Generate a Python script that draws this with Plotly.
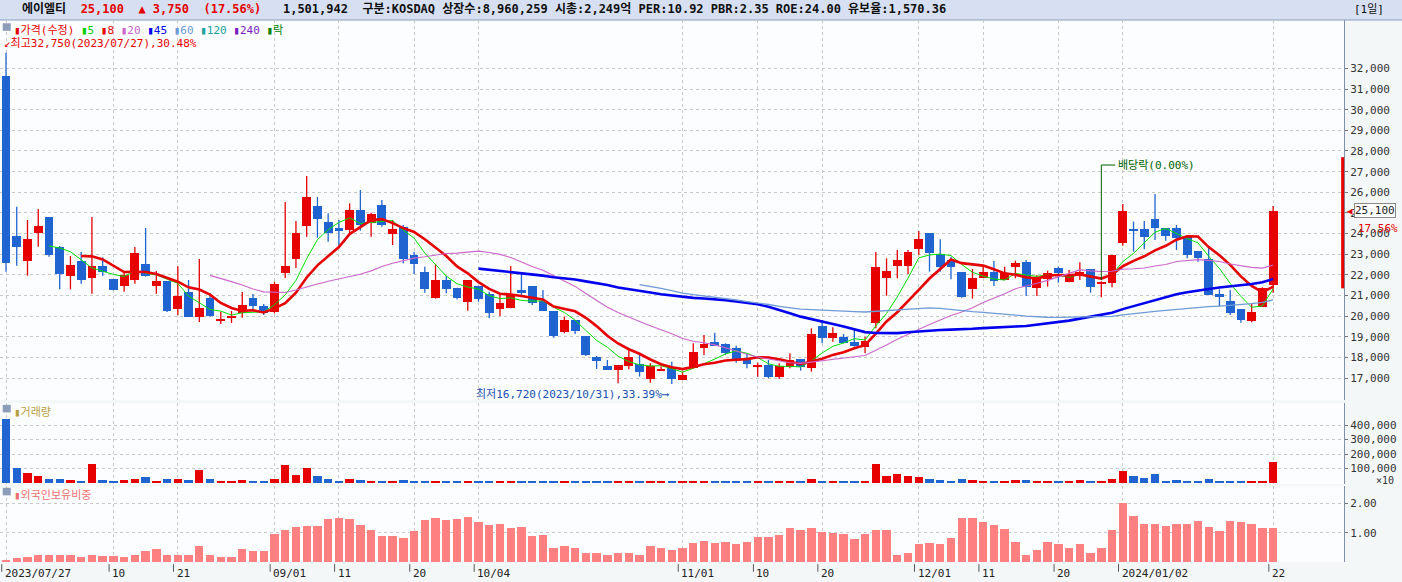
import plotly.graph_objects as go
import pandas as pd

opens = [31627,23885,22691,24046,24804,23352,21965,22675,21868,22433,21804,21481,21771,22530,21481,21691,20368,21175,19981,20885,
19772,19933,20143,20901,20498,20207,22110,22788,24385,25336,24563,24256,24176,25143,24498,25401,23998,24321,22966,22143,
20901,21756,21385,20708,21466,21079,20337,20385,21272,21466,20740,20256,19256,19821,19046,18014,17595,17401,17595,17691,
16982,17353,17530,16917,17482,18482,18740,18643,18450,17933,17530,17643,17078,17563,17917,17514,19530,18966,19014,18772,
18530,19659,21837,22450,22450,23272,24031,23014,22724,22144,21337,21869,22144,21740,22402,22644,21353,21789,22321,21644,
21950,22273,21595,21595,23563,24208,24208,24708,24257,24257,23821,23160,22773,21079,20740,20353,19772,20466,21514]
highs = [32750,25304,24659,25191,24804,23400,22917,23110,24804,22852,21804,22191,23352,24272,22191,21691,22417,21756,22772,21110,
20223,20256,21175,21078,20594,21675,25530,24611,26788,25772,24982,24660,25466,26111,25014,25627,24660,24417,23127,22401,
22530,21949,21385,21756,21466,21192,21030,22433,22079,21466,21272,20256,19982,19821,19046,18078,17885,17643,18369,18208,
17724,17563,17804,17321,18691,19095,19208,18691,18579,18208,17756,17885,17724,18208,17917,19417,19820,19466,19143,19417,
19014,23111,22804,23208,23208,24127,24031,23724,22885,22144,22289,22434,22676,22402,22692,22724,21998,22208,22402,22240,
22611,22273,21700,22950,25434,24579,24611,25918,24257,24418,23821,23160,23370,21305,21273,20353,20627,21402,25337]
lows = [22158,22449,21965,23369,22885,21304,21304,21578,21094,21965,21256,21191,21578,21917,21094,20207,20062,19981,19723,19981,
19627,19675,19933,20304,20062,20143,21852,22336,23853,23804,23611,23401,24014,24143,23853,24330,23450,22563,22046,21143,
20853,21111,20820,20272,20708,19901,20014,20385,20982,20546,20256,18966,19175,19143,18078,17450,17401,16756,17433,17079,
16788,17353,16720,16917,17482,18127,18579,18130,17756,17482,17078,16998,16966,17482,17369,17320,18691,18772,18691,18530,
18208,19417,20998,21837,22047,22966,22160,22160,21789,20901,20853,21869,21466,21740,21837,20982,20982,21434,21627,21644,
21756,21143,20918,21402,23418,23128,23240,23692,23660,23208,22805,22644,21031,20498,20063,19692,19708,20466,21143]
closes = [22562,23369,23739,24385,22965,22062,22481,21771,22433,22158,21288,21981,23062,21965,21691,20271,20981,19981,20401,20014,
19869,20030,20530,20514,20143,21562,22433,24030,25772,24724,24014,24160,25143,24417,24966,24417,24224,22788,22530,21336,
21756,21336,20901,21756,20820,20175,20627,21079,21143,20627,20256,19062,19821,19304,18127,17853,17401,17643,18014,17320,
17595,17450,16950,17160,18272,18675,18579,18208,17885,17691,17643,17078,17595,17885,17530,19143,18966,19208,18691,18578,
18820,22369,22208,22724,23111,23724,23079,22402,22370,20950,21837,22144,21724,22111,22563,21434,21837,22079,22079,21998,
22128,21402,21644,22950,25095,24144,23853,24289,23902,23773,22966,22837,21031,20950,20176,19821,20192,21350,25100]
volumes = [443000,104000,69000,48000,28000,28000,21000,14000,132000,21000,14000,21000,28000,42000,14000,28000,28000,21000,90000,28000,
14000,7000,21000,14000,7000,28000,125000,55000,104000,48000,28000,14000,28000,21000,14000,14000,14000,21000,7000,14000,
6000,6000,6000,6000,6000,6000,6000,14000,6000,6000,6000,12000,5000,5000,5000,5000,5000,5000,5000,5000,
5000,5000,5000,5000,5000,5000,5000,5000,5000,5000,5000,5000,5000,5000,5000,28000,5000,5000,5000,5000,
5000,132000,48000,62000,48000,42000,28000,21000,14000,28000,21000,14000,14000,14000,21000,21000,7000,7000,7000,14000,
21000,14000,14000,28000,83000,48000,35000,62000,14000,21000,14000,7000,28000,7000,14000,7000,7000,14000,145000]
foreign = [0.08,0.13,0.16,0.25,0.25,0.22,0.22,0.16,0.25,0.20,0.20,0.16,0.25,0.36,0.43,0.25,0.22,0.22,0.53,0.22,
0.18,0.18,0.43,0.36,0.36,0.94,1.08,1.18,1.22,1.22,1.46,1.49,1.46,1.25,1.08,0.87,0.87,0.80,1.05,1.43,
1.49,1.43,1.46,1.53,1.36,1.25,1.29,1.15,1.18,0.87,0.91,0.49,0.53,0.46,0.32,0.29,0.25,0.29,0.29,0.22,
0.53,0.49,0.39,0.46,0.63,0.70,0.63,0.67,0.60,0.67,0.84,0.84,0.91,1.15,1.08,1.15,1.01,0.98,0.94,0.77,
0.94,1.08,1.08,0.25,0.32,0.60,0.63,0.60,0.80,1.49,1.49,1.36,1.25,1.11,0.67,0.25,0.39,0.67,0.60,0.49,
0.60,0.29,0.49,1.08,2.01,1.56,1.29,1.29,1.22,1.29,1.29,1.39,1.18,1.05,1.39,1.36,1.29,1.15,1.15]
tick_idx = [0,10,16,25,31,38,44,63,70,76,85,91,98,104,118]
tick_text = ["2023/07/27","10","21","09/01","11","20","10/04","11/01","10","20","12/01","11","20","2024/01/02","22"]
price_ticks = list(range(17000, 32001, 1000))

RED = "#e60000"; BLUE = "#1f64d0"
FONT = "DejaVu Sans Mono, Noto Sans CJK KR"
x = list(range(len(closes)))
cs = pd.Series(closes)
ma = {n: cs.rolling(n).mean() for n in (5, 8, 20, 45, 60)}

fig = go.Figure()
for up, col in ((True, RED), (False, BLUE)):
    wx, wy, bx, bb, bh = [], [], [], [], []
    for i, (o, h, l, c) in enumerate(zip(opens, highs, lows, closes)):
        if (c >= o) != up:
            continue
        wx += [i, i, None]; wy += [l, h, None]
        bx.append(i); bb.append(min(o, c)); bh.append(max(abs(c - o), 60))
    fig.add_trace(go.Scatter(x=wx, y=wy, mode="lines", line=dict(color=col, width=1.3),
                             showlegend=False, hoverinfo="skip", yaxis="y"))
    fig.add_trace(go.Bar(x=bx, y=bh, base=bb, width=0.82, marker=dict(color=col, line=dict(width=0)),
                         showlegend=False, yaxis="y"))
mastyle = {5: ("#00e000", 1), 8: (RED, 2.6), 20: ("#cc66cc", 1.1), 45: ("#0000ee", 2.6), 60: ("#6f9bd6", 1.3)}
for n, (c, w) in mastyle.items():
    fig.add_trace(go.Scatter(x=x, y=ma[n], mode="lines", line=dict(color=c, width=w),
                             yaxis="y", showlegend=False, hoverinfo="skip"))
vcol = [RED if c >= o else BLUE for o, c in zip(opens, closes)]
fig.add_trace(go.Bar(x=x, y=volumes, marker=dict(color=vcol, line=dict(width=0)), width=0.78,
                     yaxis="y2", showlegend=False))
fig.add_trace(go.Bar(x=x, y=foreign, marker=dict(color="#ff8080", line=dict(width=0)), width=0.78,
                     yaxis="y3", showlegend=False))

grid = dict(showgrid=True, gridcolor="#c8c8c8", griddash="dot", gridwidth=1)
axfont = dict(family=FONT, size=11, color="#333333")
yax = dict(side="right", tickfont=axfont, ticks="outside", ticklen=3, tickcolor="#777", showline=True,
           linecolor="#8090a8", zeroline=False, **grid)
fig.update_layout(
    width=1402, height=582, margin=dict(l=0, r=58, t=20, b=20),
    paper_bgcolor="#f4f7f8", plot_bgcolor="#fbfdfe", bargap=0, barmode="overlay",
    xaxis=dict(range=[-0.56, 124.6], tickvals=tick_idx, showticklabels=False, anchor="y3",
               ticks="", zeroline=False, **grid),
    yaxis=dict(domain=[0.299, 1.0], range=[15950, 34340], tickvals=price_ticks,
               ticktext=[f"{v:,}" for v in price_ticks], **yax),
    yaxis2=dict(domain=[0.144, 0.293], range=[-8000, 553000],
                tickvals=[100000, 200000, 300000, 400000], ticktext=["100,000", "200,000", "300,000", "400,000"], **yax),
    yaxis3=dict(domain=[0.0, 0.140], range=[0, 2.59], tickvals=[1, 2], ticktext=["1.00", "2.00"], **yax),
    font=dict(family=FONT, size=12),
)

ann = []
fig.add_shape(type="rect", xref="paper", yref="paper", x0=-0.01, x1=1.05, y0=1.0, y1=1.04,
              fillcolor="#d6e0f2", line=dict(color="#8a9cc0", width=1), layer="below")
hdr = ('<b>에이엘티</b>  <span style="color:#e60000"><b>25,100  ▲ 3,750  (17.56%)</b></span>   '
       '<b>1,501,942  구분:KOSDAQ 상장수:8,960,259 시총:2,249억 PER:10.92 PBR:2.35 ROE:24.00 유보율:1,570.36</b>')
ann.append(dict(text=hdr, xref="paper", yref="paper", x=0, xshift=20, y=1.037, xanchor="left", yanchor="top",
                showarrow=False, font=dict(family=FONT, size=12, color="#111")))
ann.append(dict(text="[1일]", xref="paper", yref="paper", x=1.0, xshift=8, y=1.037, xanchor="left",
                yanchor="top", showarrow=False, font=dict(family=FONT, size=11, color="#111")))
leg = ('<span style="color:#e60000">▮가격(수정)</span> <span style="color:#00d000">▮5</span> '
       '<span style="color:#e60000">▮8</span> <span style="color:#cc66cc">▮20</span> '
       '<span style="color:#0000ee">▮45</span> <span style="color:#6f9bd6">▮60</span> '
       '<span style="color:#20a0a0">▮120</span> <span style="color:#7a20c0">▮240</span> '
       '<span style="color:#008000">▮락</span>')
ann.append(dict(text=leg, xref="paper", yref="paper", x=0, xshift=12, y=0.996, xanchor="left", yanchor="top",
                showarrow=False, font=dict(family=FONT, size=11)))
ann.append(dict(text="↙최고32,750(2023/07/27),30.48%", xref="paper", yref="paper", x=0, xshift=2, y=0.972,
                xanchor="left", yanchor="top", showarrow=False, font=dict(family=FONT, size=11, color=RED)))
ann.append(dict(text="최저16,720(2023/10/31),33.39%⟶", x=62, y=16720, xanchor="right", yanchor="top",
                yshift=-2, showarrow=False, font=dict(family=FONT, size=11, color="#2050b0")))
ann.append(dict(text="▮거래량", xref="paper", yref="paper", x=0, xshift=12, y=0.292, xanchor="left",
                yanchor="top", showarrow=False, font=dict(family=FONT, size=11, color="#b8a040")))
ann.append(dict(text="▮외국인보유비중", xref="paper", yref="paper", x=0, xshift=12, y=0.139, xanchor="left",
                yanchor="top", showarrow=False, font=dict(family=FONT, size=11, color="#f07070")))
ann.append(dict(text="×10", xref="paper", yref="paper", x=1.0, xshift=30, y=0.150, xanchor="left",
                yanchor="middle", showarrow=False, font=dict(family=FONT, size=10, color="#333")))
fig.add_shape(type="line", x0=102, x1=102, y0=21750, y1=27320, line=dict(color="#006000", width=1))
fig.add_shape(type="line", x0=102, x1=103.3, y0=27320, y1=27320, line=dict(color="#006000", width=1))
ann.append(dict(text="배당락(0.00%)", x=103.4, y=27320, xanchor="left", yanchor="middle", showarrow=False,
                font=dict(family=FONT, size=11, color="#006000")))
ann.append(dict(text="◀", xref="paper", x=1.0, y=closes[-1], xanchor="left", xshift=1, showarrow=False,
                font=dict(size=9, color=RED)))
ann.append(dict(text="25,100", xref="paper", x=1.0, y=closes[-1], xanchor="left", xshift=10, showarrow=False,
                bgcolor="#ffffff", bordercolor="#888", borderwidth=1, borderpad=0,
                font=dict(family=FONT, size=11, color="#222")))
ann.append(dict(text="17.56%", xref="paper", x=1.0, y=closes[-1], yshift=-18, xanchor="left", xshift=12,
                showarrow=False, font=dict(family=FONT, size=11, color=RED)))
fig.add_shape(type="line", xref="paper", x0=0.999, x1=0.999, y0=21350, y1=27700, line=dict(color=RED, width=3))
for i, t in zip(tick_idx, tick_text):
    ann.append(dict(text=t, x=i - 0.3, xref="x", yref="paper", y=-0.006, xanchor="left", yanchor="top",
                    showarrow=False, font=dict(family=FONT, size=11, color="#222")))
    fig.add_shape(type="line", x0=i - 0.4, x1=i - 0.4, xref="x", yref="paper", y0=-0.004, y1=-0.018,
                  line=dict(color="#555", width=1))
for yy in (0.994, 0.29, 0.137):
    fig.add_shape(type="rect", xref="paper", yref="paper", x0=0.002, x1=0.008, y0=yy - 0.014, y1=yy,
                  fillcolor="#8d9db8", line=dict(width=0))
fig.update_layout(annotations=ann)
fig.write_html("out.html", config={"displayModeBar": False},
               post_script="document.body.style.margin='0';document.body.style.overflow='hidden';")
